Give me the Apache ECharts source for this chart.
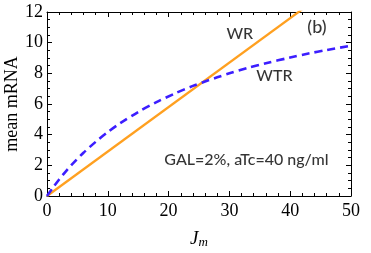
<!DOCTYPE html>
<html>
<head>
<meta charset="utf-8">
<script src="https://cdn.jsdelivr.net/npm/echarts@6/dist/echarts.min.js"></script>
<style>
html,body{margin:0;padding:0;background:#fff;}
#chart{width:371px;height:253px;}
</style>
</head>
<body>
<div id="chart"></div>
<script>
// Data
var wtrX = [0, 1, 2, 3, 4, 6, 8, 10, 12, 15, 18, 21, 24, 26, 28, 30, 33, 36, 40, 43, 46, 50];
var wtrY = [0, 0.56, 1.08, 1.56, 2.01, 2.82, 3.53, 4.17, 4.74, 5.48, 6.12, 6.68, 7.18, 7.47, 7.74, 8.0, 8.35, 8.66, 9.03, 9.29, 9.52, 9.8];
var wrX = [0, 50];
var wrY = [0, 14.5];
var xTicks = [0, 10, 20, 30, 40, 50];
var yTicks = [0, 2, 4, 6, 8, 10, 12];
var labelTexts = ['WR', 'WTR', '(b)', 'GAL=2%, aTc=40 ng/ml'];
var labelAt = [[31.7, 10.6], [37.4, 7.84], [44.4, 11.0], [32.8, 2.35]];
var labelSizes = [16, 16, 18, 16];

function zip(a, b) { return a.map(function (v, i) { return [v, b[i]]; }); }

var serif = 'Liberation Serif';
var sans = 'Lato';
function xAx(pos, labels) {
  return {
    type: 'value', position: pos, min: xTicks[0], max: xTicks[xTicks.length - 1], interval: xTicks[1] - xTicks[0],
    axisLine: { show: true, onZero: false, lineStyle: { color: '#000', width: 1 } },
    axisTick: { show: true, inside: true, length: 5, lineStyle: { color: '#000' } },
    minorTick: { show: true, splitNumber: 5, length: 3, lineStyle: { color: '#000' } },
    splitLine: { show: false },
    axisLabel: { show: labels, color: '#000', fontFamily: serif, fontSize: 18, margin: 6 }
  };
}
function yAx(pos, labels) {
  return {
    type: 'value', position: pos, min: yTicks[0], max: yTicks[yTicks.length - 1], interval: yTicks[1] - yTicks[0],
    axisLine: { show: true, onZero: false, lineStyle: { color: '#000', width: 1 } },
    axisTick: { show: true, inside: true, length: 5, lineStyle: { color: '#000' } },
    minorTick: { show: true, splitNumber: 4, length: 3, lineStyle: { color: '#000' } },
    splitLine: { show: false },
    axisLabel: { show: labels, color: '#000', fontFamily: serif, fontSize: 18, margin: 4 }
  };
}
var xa = xAx('bottom', true);
xa.name = '{j|J}{m|m}';
xa.nameLocation = 'middle';
xa.nameGap = 32;
xa.nameMoveOverlap = false;
xa.nameTextStyle = {
  rich: {
    j: { fontFamily: serif, fontStyle: 'italic', fontSize: 19, color: '#000' },
    m: { fontFamily: serif, fontStyle: 'italic', fontSize: 13, color: '#000', padding: [8, 0, 0, 0] }
  }
};
var ya = yAx('left', true);
ya.name = 'mean mRNA';
ya.nameLocation = 'middle';
ya.nameGap = 26;
ya.nameMoveOverlap = false;
ya.nameTextStyle = { fontFamily: serif, fontSize: 18, color: '#000' };

var chart = echarts.init(document.getElementById('chart'), null, { renderer: 'canvas' });
chart.setOption({
  animation: false,
  backgroundColor: '#fff',
  grid: { left: 47, right: 20, top: 12, bottom: 57, containLabel: false, outerBoundsMode: 'none' },
  xAxis: [xa, xAx('top', false)],
  yAxis: [ya, yAx('right', false)],
  series: [
    {
      type: 'line', name: 'WR', data: zip(wrX, wrY), xAxisIndex: 0, yAxisIndex: 0,
      showSymbol: false, clip: true,
      lineStyle: { color: '#FFA020', width: 2.3 }
    },
    {
      type: 'line', name: 'WTR', data: zip(wtrX, wtrY), xAxisIndex: 0, yAxisIndex: 0,
      showSymbol: false, smooth: 0.3, clip: true,
      lineStyle: { color: '#3C1EFF', width: 2.6, type: [8, 5] }
    },
    {
      type: 'scatter', xAxisIndex: 0, yAxisIndex: 0, symbolSize: 1, silent: true,
      itemStyle: { color: 'rgba(0,0,0,0)' },
      data: labelAt.map(function (p, i) {
        return { value: p, name: labelTexts[i], label: { fontSize: labelSizes[i] } };
      }),
      label: {
        show: true, position: 'inside', formatter: '{b}',
        fontFamily: sans, fontSize: 16, fontWeight: 500, color: '#000'
      }
    }
  ]
});
</script>
</body>
</html>
